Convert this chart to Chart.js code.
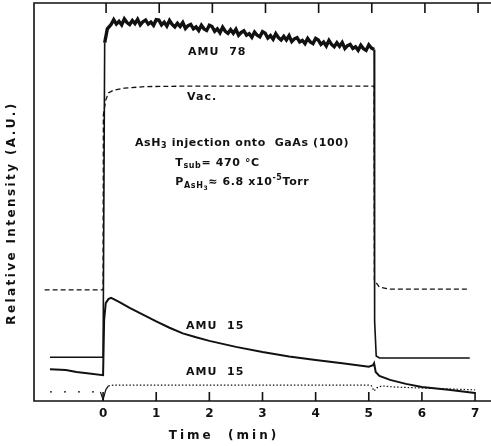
<!DOCTYPE html>
<html>
<head>
<meta charset="utf-8">
<script src="https://cdn.jsdelivr.net/npm/chart.js@4.4.1/dist/chart.umd.min.js"></script>
<style>
  html, body { margin: 0; padding: 0; background: #fff; }
  #wrap { width: 491px; height: 446px; }
</style>
</head>
<body>
<div id="wrap"><canvas id="chart"></canvas></div>
<script>
// time axis (min)
const tickMinutes = [0, 1, 2, 3, 4, 5, 6, 7];

// AMU 78 signal (thick noisy trace)
const amu78Time = [-1.0, 0.0, 0.03, 0.08, 0.15,
  0.20, 0.25, 0.30, 0.35, 0.40, 0.45, 0.50, 0.55, 0.60, 0.65,
  0.70, 0.75, 0.80, 0.85, 0.90, 0.95, 1.00, 1.05, 1.10, 1.15,
  1.20, 1.25, 1.30, 1.35, 1.40, 1.45, 1.50, 1.55, 1.60, 1.65,
  1.70, 1.75, 1.80, 1.85, 1.90, 1.95, 2.00, 2.05, 2.10, 2.15,
  2.20, 2.25, 2.30, 2.35, 2.40, 2.45, 2.50, 2.55, 2.60, 2.65,
  2.70, 2.75, 2.80, 2.85, 2.90, 2.95, 3.00, 3.05, 3.10, 3.15,
  3.20, 3.25, 3.30, 3.35, 3.40, 3.45, 3.50, 3.55, 3.60, 3.65,
  3.70, 3.75, 3.80, 3.85, 3.90, 3.95, 4.00, 4.05, 4.10, 4.15,
  4.20, 4.25, 4.30, 4.35, 4.40, 4.45, 4.50, 4.55, 4.60, 4.65,
  4.70, 4.75, 4.80, 4.85, 4.90, 4.95, 5.00, 5.05, 5.10,
  5.11, 5.14, 5.2, 6.9];
const amu78Value = [11.0, 11.0, 90.0, 93.5, 94.6,
  95.8, 94.7, 95.4, 94.5, 96.0, 95.1, 94.6, 95.6, 94.8, 95.9,
  94.5, 95.3, 95.7, 94.7, 95.2, 94.4, 95.8, 95.7, 94.5, 95.2,
  94.2, 95.6, 94.6, 94.0, 94.9, 94.1, 95.1, 93.6, 94.3, 94.6,
  93.5, 94.0, 93.1, 94.4, 93.5, 93.1, 94.4, 94.1, 92.9, 93.5,
  92.5, 93.9, 92.9, 92.4, 93.3, 92.4, 93.4, 91.9, 92.6, 93.0,
  91.9, 92.3, 91.4, 92.7, 91.9, 91.5, 92.8, 92.4, 91.2, 91.8,
  90.9, 92.3, 91.3, 90.7, 91.6, 90.7, 91.8, 90.3, 91.0, 91.3,
  90.2, 90.6, 89.8, 91.1, 90.2, 89.8, 91.1, 90.7, 89.6, 90.2,
  89.2, 90.6, 89.6, 89.0, 90.0, 89.1, 90.1, 88.6, 89.3, 89.6,
  88.6, 89.0, 88.1, 89.4, 88.5, 88.1, 89.5, 88.7, 88.3,
  20.0, 11.3, 10.8, 10.8];

// vacuum gauge (dashed)
const vacTime = [-1.1, 0.0, 0.005, 0.05, 0.1, 0.2, 0.4, 0.8, 1.5, 5.1, 5.105, 5.2, 5.4, 6.9];
const vacValue = [27.9, 27.9, 71.9, 75.6, 77.4, 78.1, 78.6, 79.0, 79.1, 79.1, 30.4, 28.6, 28.1, 28.1];

// AMU 15 signal (solid)
const amu15Time = [-1.0, -0.7, -0.5, -0.3, 0.0, 0.02, 0.05, 0.1, 0.15, 0.2, 0.3, 0.5, 0.75,
  1.0, 1.25, 1.5, 1.75, 2.0, 2.5, 3.0, 3.5, 4.0, 4.5, 5.0, 5.08, 5.1, 5.13, 5.2, 5.4, 5.7, 6.0, 6.5, 7.0];
const amu15Value = [8.0, 7.8, 7.3, 7.0, 6.5, 20.4, 24.6, 25.6, 25.9, 25.6, 24.9, 23.4, 21.7,
  20.0, 18.4, 17.0, 16.0, 15.1, 13.6, 12.3, 11.2, 10.3, 9.5, 8.6, 9.0, 9.5, 7.3, 6.3, 5.3, 4.3, 3.5, 2.8, 2.0];

// AMU 15 background (dotted)
const amu15bTime = [-1.0, -0.05, 0.0, 0.05, 0.1, 0.2, 5.0, 5.05, 5.1, 5.15, 5.25, 5.5, 7.0];
const amu15bValue = [2.3, 2.3, 0.3, 2.8, 3.8, 4.0, 4.0, 3.8, 2.5, 3.3, 3.8, 3.5, 2.8];

const ink = '#111';
const FONT = '"DejaVu Sans", sans-serif';

function pts(times, values) {
  return times.map((t, i) => ({ x: t, y: values[i] }));
}

// text with sub/superscript runs: [text, size, dy]
function drawRich(ctx, x, y, parts) {
  let cx = x;
  parts.forEach(([text, size, dy]) => {
    ctx.font = 'bold ' + size + 'px ' + FONT;
    ctx.fillText(text, cx, y + dy);
    cx += ctx.measureText(text).width;
  });
}

const decor = {
  id: 'decor',
  afterDraw(chart) {
    const { ctx, chartArea: a, scales: { x, y } } = chart;
    ctx.save();
    ctx.strokeStyle = ink;
    ctx.fillStyle = ink;
    ctx.lineWidth = 1.6;
    // frame: top, left, bottom
    ctx.beginPath();
    ctx.moveTo(a.right, a.top);
    ctx.lineTo(a.left, a.top);
    ctx.lineTo(a.left, a.bottom);
    ctx.lineTo(a.right, a.bottom);
    ctx.stroke();
    // inward tick marks
    x.ticks.forEach(t => {
      const px = x.getPixelForValue(t.value);
      ctx.beginPath();
      ctx.moveTo(px, a.bottom);
      ctx.lineTo(px, a.bottom - 9);
      ctx.moveTo(px + 3, a.top);
      ctx.lineTo(px + 3, a.top + 10);
      ctx.stroke();
    });

    ctx.textBaseline = 'middle';
    ctx.textAlign = 'left';
    const at = (t, u) => [x.getPixelForValue(t), y.getPixelForValue(u)];

    ctx.letterSpacing = '1px';
    let p = at(1.60, 87.7);
    drawRich(ctx, p[0], p[1], [['AMU  78', 11, 0]]);
    p = at(1.58, 76.4);
    drawRich(ctx, p[0], p[1], [['Vac.', 11, 0]]);
    p = at(1.56, 18.9);
    drawRich(ctx, p[0], p[1], [['AMU  15', 11, 0]]);
    p = at(1.56, 7.3);
    drawRich(ctx, p[0], p[1], [['AMU  15', 11, 0]]);
    ctx.letterSpacing = '0.6px';
    p = at(0.60, 64.8);
    drawRich(ctx, p[0], p[1], [['AsH', 11, 0], ['3', 8, 3], [' injection onto  GaAs (100)', 11, 0]]);
    p = at(1.36, 59.8);
    drawRich(ctx, p[0], p[1], [['T', 11, 0], ['sub', 8, 3], ['= 470 °C', 11, 0]]);
    p = at(1.36, 55.0);
    drawRich(ctx, p[0], p[1], [['P', 11, 0], ['AsH', 8, 4], ['3', 6, 6], ['≈ 6.8 x10', 11, 0], ['-5', 8, -4], ['Torr', 11, 0]]);

    // axis titles
    ctx.letterSpacing = '3px';
    ctx.textAlign = 'center';
    ctx.font = 'bold 12px ' + FONT;
    ctx.fillText('Time  (min)', 224, 436);
    ctx.letterSpacing = '2.4px';
    ctx.translate(12, 213);
    ctx.rotate(-Math.PI / 2);
    ctx.fillText('Relative Intensity (A.U.)', 0, 0);
    ctx.restore();
  }
};

new Chart(document.getElementById('chart'), {
  type: 'line',
  data: {
    datasets: [
      {
        label: 'AMU 78',
        data: pts(amu78Time, amu78Value),
        borderColor: ink,
        borderWidth: 1.6,
        borderJoinStyle: 'miter',
        segment: {
          borderWidth: c => (c.p0.parsed.y > 85 && c.p1.parsed.y > 85) ? 3.4 : 1.6
        }
      },
      {
        label: 'Vac.',
        data: pts(vacTime, vacValue),
        borderColor: ink,
        borderWidth: 1.3,
        borderDash: [5, 3]
      },
      {
        label: 'AMU 15',
        data: pts(amu15Time, amu15Value),
        borderColor: ink,
        borderWidth: 2
      },
      {
        label: 'AMU 15 bg',
        data: pts(amu15bTime, amu15bValue),
        borderColor: ink,
        borderWidth: 1.2,
        borderDash: [1.5, 2],
        segment: {
          borderDash: c => c.p1.parsed.x <= -0.01 ? [2, 12]
            : (c.p0.parsed.x >= -0.06 && c.p1.parsed.x <= 0.12 ? [] : [1.5, 2])
        }
      }
    ]
  },
  options: {
    responsive: true,
    maintainAspectRatio: false,
    animation: false,
    devicePixelRatio: 1,
    elements: { point: { radius: 0 }, line: { tension: 0 } },
    layout: { padding: { left: 34, top: 3, right: 0, bottom: 0 } },
    plugins: { legend: { display: false }, tooltip: { enabled: false } },
    scales: {
      x: {
        type: 'linear',
        min: -1.3,
        max: 7.3,
        afterBuildTicks: s => { s.ticks = tickMinutes.map(v => ({ value: v })); },
        afterFit: s => { s.height = 45; },
        grid: { display: false, drawTicks: false },
        border: { display: false },
        ticks: {
          padding: 6,
          color: ink,
          font: { family: FONT, size: 12, weight: 'bold' },
          callback: v => String(v)
        }
      },
      y: {
        display: false,
        min: 0,
        max: 100
      }
    }
  },
  plugins: [decor]
});
</script>
</body>
</html>
